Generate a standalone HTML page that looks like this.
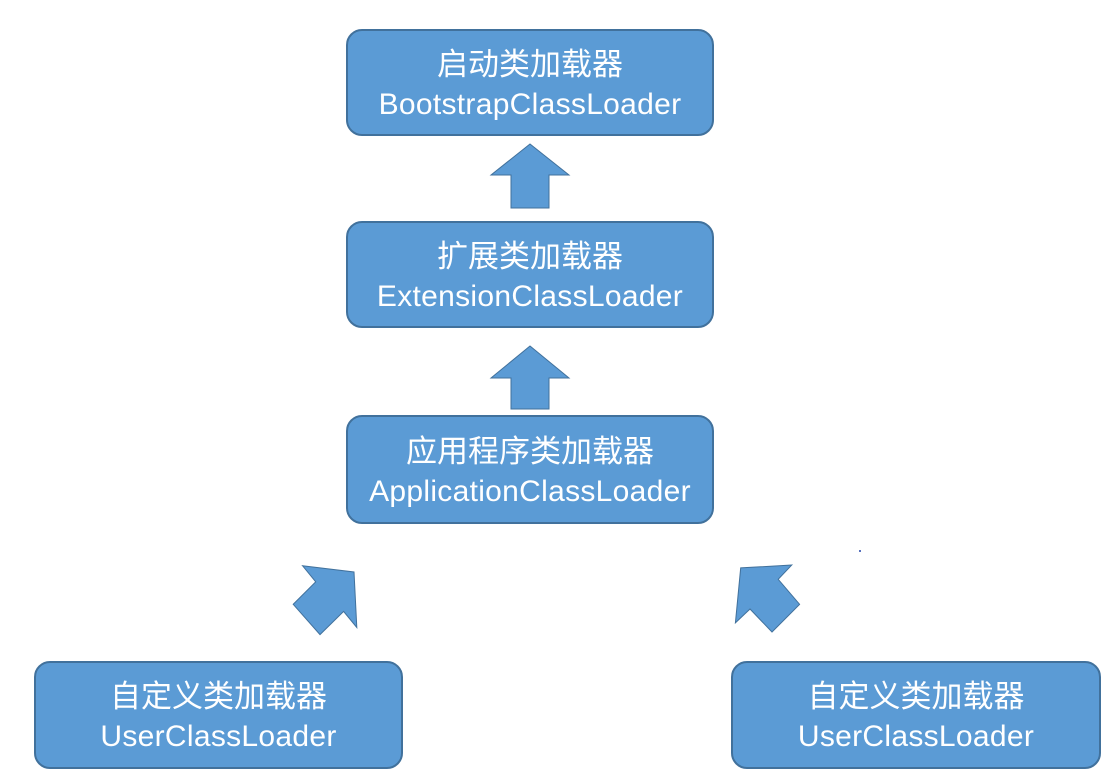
<!DOCTYPE html>
<html><head><meta charset="utf-8"><style>
body{margin:0;width:1109px;height:783px;background:#fff;position:relative;overflow:hidden;font-family:"Liberation Sans","Noto Sans CJK SC",sans-serif}
.b{position:absolute;background:#5b9bd5;border:2px solid #41719c;border-radius:16px;box-sizing:border-box;color:#fff;text-align:center;line-height:40px;display:flex;flex-direction:column;justify-content:center;padding-top:4px}
.c{font-size:31px}.e{font-size:30px;letter-spacing:0.3px}
svg{position:absolute;left:0;top:0}
</style></head><body>
<div class="b" style="left:346px;top:29px;width:368px;height:107px"><div class="c">启动类加载器</div><div class="e">BootstrapClassLoader</div></div>
<div class="b" style="left:346px;top:221px;width:368px;height:107px"><div class="c">扩展类加载器</div><div class="e">ExtensionClassLoader</div></div>
<div class="b" style="left:346px;top:415px;width:368px;height:109px"><div class="c">应用程序类加载器</div><div class="e">ApplicationClassLoader</div></div>
<div class="b" style="left:34px;top:661px;width:369px;height:108px"><div class="c">自定义类加载器</div><div class="e">UserClassLoader</div></div>
<div class="b" style="left:731px;top:661px;width:370px;height:108px"><div class="c">自定义类加载器</div><div class="e">UserClassLoader</div></div>
<svg width="1109" height="783">
<g fill="#5b9bd5" stroke="#41719c" stroke-width="1">
<polygon points="530,144 569,175 549,175 549,208 511,208 511,175 491,175"/>
<polygon points="530,346 569,378 549,378 549,409 511,409 511,378 491,378"/>
<polygon points="302.5,565.7 354,572 356.8,627.5 343.6,611.4 320,634.6 293.2,604.3 315.7,581.8"/>
<polygon points="791.8,565 740.7,567.9 735.4,622.9 750,609 772,632 799.6,604.3 778.2,579.3"/>
</g>
<circle cx="860" cy="551" r="1" fill="#2244aa"/>
</svg>
</body></html>
